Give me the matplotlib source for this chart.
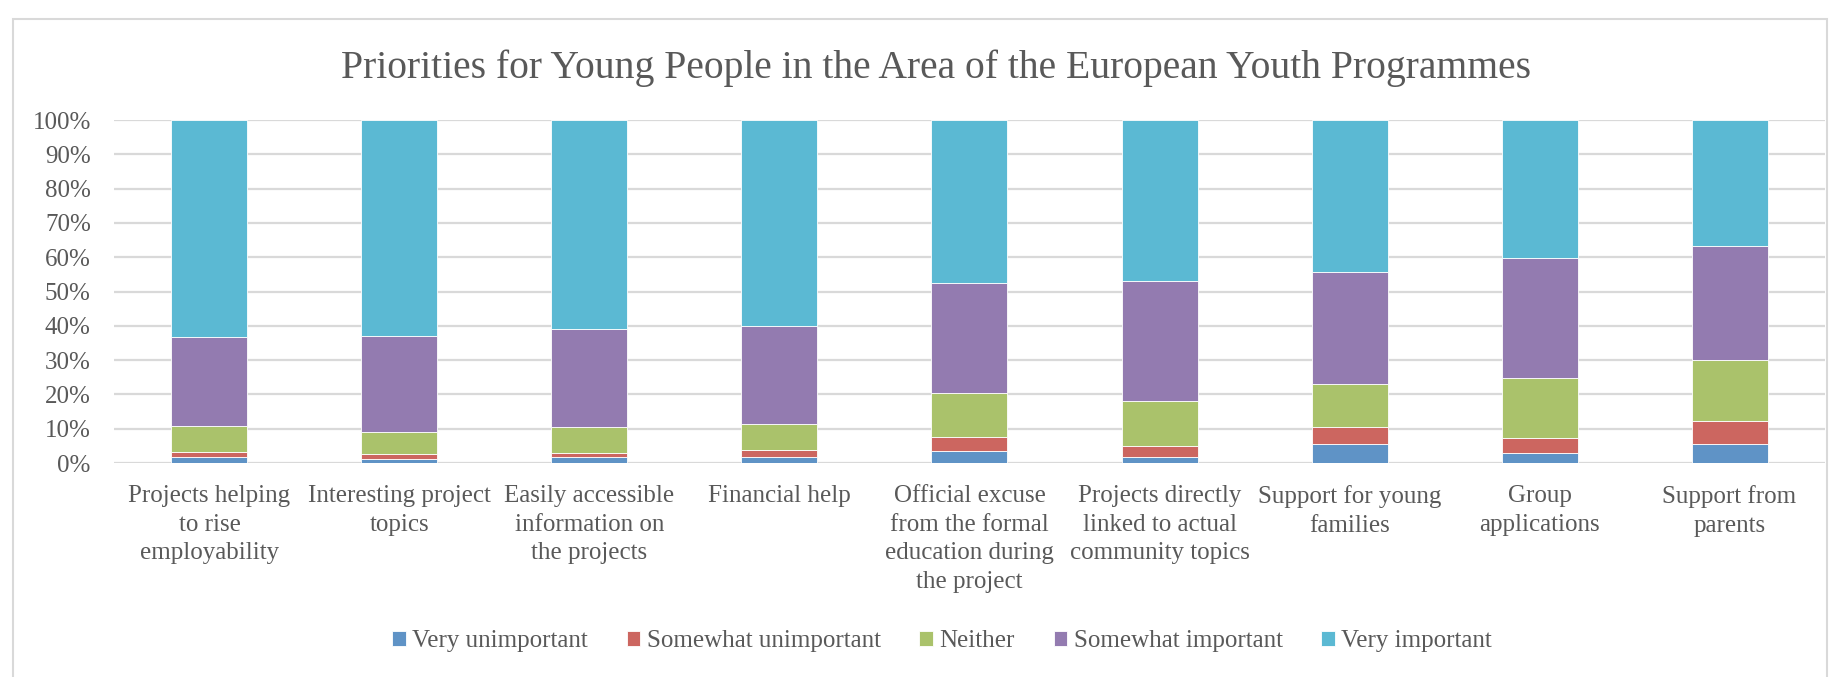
import matplotlib
matplotlib.use("Agg")
import matplotlib.pyplot as plt
from matplotlib.patches import Rectangle

# data (percent of respondents)
categories = [
    "Projects helping\nto rise\nemployability",
    "Interesting project\ntopics",
    "Easily accessible\ninformation on\nthe projects",
    "Financial help",
    "Official excuse\nfrom the formal\neducation during\nthe project",
    "Projects directly\nlinked to actual\ncommunity topics",
    "Support for young\nfamilies",
    "Group\napplications",
    "Support from\nparents",
]
very_unimportant = [1.7, 1.3, 1.7, 1.7, 3.6, 1.8, 5.4, 3.0, 5.4]
somewhat_unimportant = [1.6, 1.4, 1.3, 2.2, 3.9, 3.2, 5.2, 4.4, 6.8]
neither = [7.5, 6.3, 7.4, 7.5, 12.8, 13.2, 12.4, 17.4, 17.9]
somewhat_important = [26.0, 28.0, 28.8, 28.5, 32.1, 34.8, 32.6, 35.1, 33.3]
very_important = [63.2, 63.0, 60.8, 60.1, 47.6, 47.0, 44.4, 40.1, 36.6]

series_names = ["Very unimportant", "Somewhat unimportant", "Neither",
                "Somewhat important", "Very important"]
series = [very_unimportant, somewhat_unimportant, neither,
          somewhat_important, very_important]
colors = ["#5F93C6", "#CC6660", "#AAC26B", "#937BB0", "#5BB9D3"]

text_color = "#595959"
font = "Liberation Serif"

fig = plt.figure(figsize=(18.4, 6.77), dpi=100)
ax = fig.add_axes([0.0622, 0.3161, 0.9294, 0.5066])

# chart border like the Excel chart area
fig.patches.append(Rectangle((13 / 1840, -0.01), (1827 - 13) / 1840, 1 - 19 / 677 + 0.01,
                             transform=fig.transFigure, fill=False,
                             edgecolor="#d9d9d9", linewidth=1.5))

x = range(len(categories))
bottom = [0.0] * len(categories)
for name, vals, col in zip(series_names, series, colors):
    ax.bar(x, vals, width=0.4, bottom=bottom, color=col, label=name,
           edgecolor="white", linewidth=0.6, zorder=3)
    bottom = [b + v for b, v in zip(bottom, vals)]

ax.set_xlim(-0.5, len(categories) - 0.5)
ax.set_ylim(0, 100)
ax.set_yticks(range(0, 101, 10))
ax.set_yticklabels([f"{v}%" for v in range(0, 101, 10)])
ax.set_xticks(list(x))
ax.set_xticklabels(categories, linespacing=1.39)
ax.yaxis.grid(True, color="#d9d9d9", linewidth=1.6, zorder=0)
ax.set_axisbelow(True)
for s in ax.spines.values():
    s.set_visible(False)
ax.tick_params(axis="both", length=0, labelcolor=text_color, labelsize=18)
ax.tick_params(axis="y", pad=17)
ax.tick_params(axis="x", pad=16)
for lab in ax.get_xticklabels() + ax.get_yticklabels():
    lab.set_fontfamily(font)
for lab in ax.get_xticklabels():
    lab.set_verticalalignment("top")

fig.text(0.5087, 0.899, "Priorities for Young People in the Area of the European Youth Programmes",
         ha="center", va="center", fontsize=28.5, color=text_color, family=font)

leg = fig.legend(loc="center", bbox_to_anchor=(0.512, 0.0525), ncol=5, frameon=False,
                 handlelength=0.55, handleheight=0.55, handletextpad=0.25,
                 columnspacing=1.55, prop={"family": font, "size": 18})
for t in leg.get_texts():
    t.set_color(text_color)

fig.savefig("out.png", dpi=100)
